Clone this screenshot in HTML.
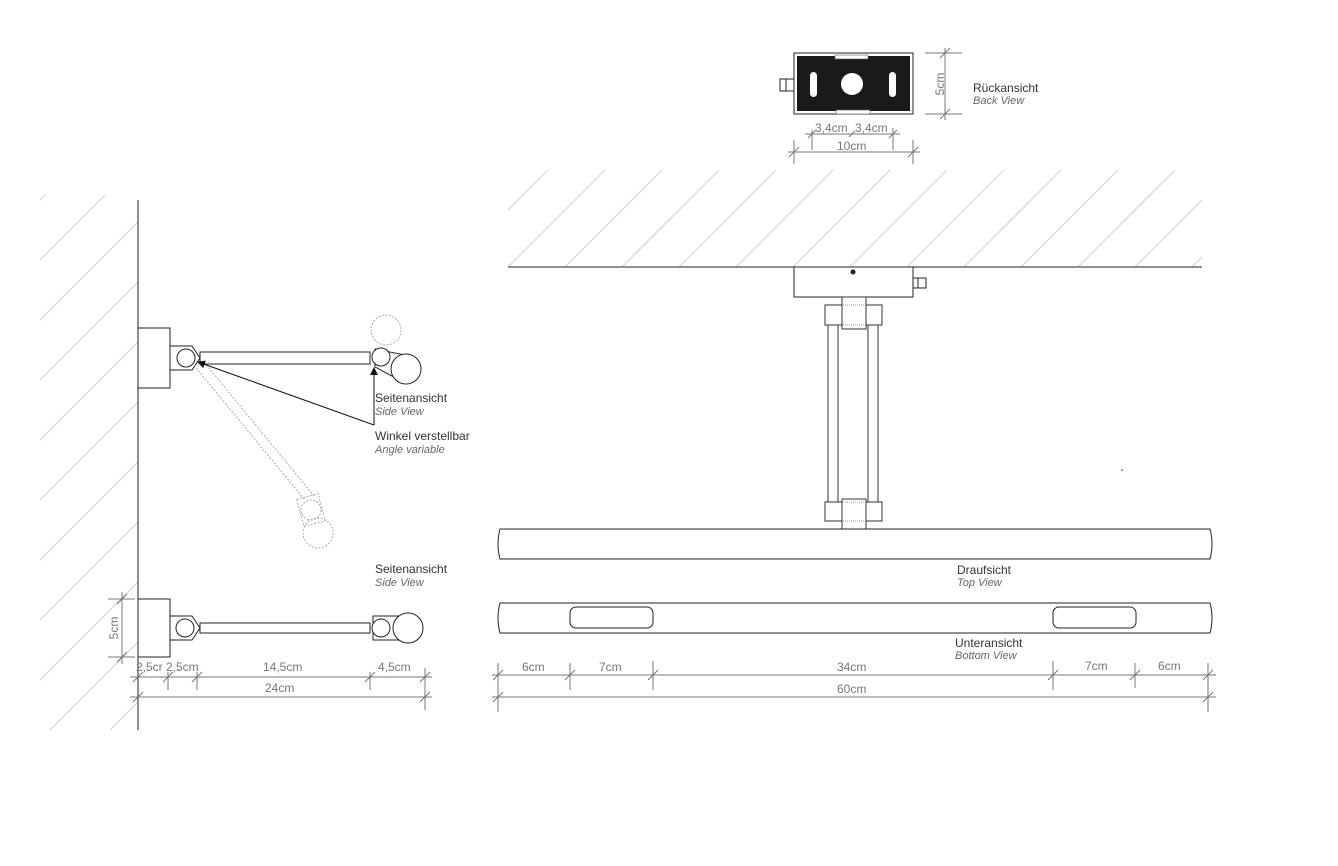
<!DOCTYPE html>
<html><head><meta charset="utf-8"><style>
html,body{margin:0;padding:0;background:#fff}
svg{display:block}
text{font-family:"Liberation Sans",sans-serif;font-size:12px;fill:#333}
.i{font-style:italic;font-size:11px;fill:#666}
.d{fill:#777;font-size:12px}
</style></head><body>
<svg width="1338" height="866" viewBox="0 0 1338 866" xmlns="http://www.w3.org/2000/svg">
<defs>
<clipPath id="c1"><rect x="508" y="170" width="694" height="97"/></clipPath>
<clipPath id="c2"><rect x="40" y="195" width="98" height="535"/></clipPath>
<marker id="ar" markerWidth="8" markerHeight="8" refX="7" refY="4" orient="auto"><path d="M0,0 L8,4 L0,8z" fill="#111"/></marker>
</defs>
<!-- ceiling hatching -->
<g clip-path="url(#c1)" stroke="#d0d0d0" stroke-width="1">
<path d="M451,267 L551,167 M508,267 L608,167 M565,267 L665,167 M622,267 L722,167 M679,267 L779,167 M736,267 L836,167 M793,267 L893,167 M850,267 L950,167 M907,267 L1007,167 M964,267 L1064,167 M1021,267 L1121,167 M1078,267 L1178,167 M1135,267 L1235,167 M1192,267 L1292,167"/>
</g>
<line x1="508" y1="267" x2="1202" y2="267" stroke="#222"/>
<!-- wall hatching -->
<g clip-path="url(#c2)" stroke="#d0d0d0" stroke-width="1">
<path d="M0,240 L140,100 M0,300 L140,160 M0,360 L140,220 M0,420 L140,280 M0,480 L140,340 M0,540 L140,400 M0,600 L140,460 M0,660 L140,520 M0,720 L140,580 M0,780 L140,640 M0,840 L140,700 M0,900 L140,760"/>
</g>
<line x1="138" y1="200" x2="138" y2="730" stroke="#222"/>

<!-- back view -->
<rect x="780" y="79" width="14" height="12" fill="#fff" stroke="#222"/>
<line x1="786" y1="79" x2="786" y2="91" stroke="#222"/>
<rect x="794" y="53" width="119" height="61" fill="#fff" stroke="#222"/>
<rect x="797" y="56" width="113" height="55" fill="#1a1a1a"/>
<rect x="835" y="55" width="33" height="4" fill="#fff" stroke="#555" stroke-width="0.6"/>
<rect x="836" y="110" width="34" height="4" fill="#fff" stroke="#555" stroke-width="0.6"/>
<circle cx="852" cy="84" r="11" fill="#fff"/>
<rect x="810" y="72" width="7" height="25" rx="3.5" fill="#fff"/>
<rect x="889" y="72" width="7" height="25" rx="3.5" fill="#fff"/>
<g stroke="#777" stroke-width="1" fill="none">
<line x1="925" y1="53" x2="962" y2="53"/><line x1="925" y1="114" x2="962" y2="114"/>
<line x1="945" y1="48" x2="945" y2="120"/>
<line x1="940" y1="58" x2="950" y2="48"/><line x1="940" y1="119" x2="950" y2="109"/>
<line x1="805" y1="134" x2="900" y2="134"/>
<line x1="812" y1="130" x2="812" y2="150"/><line x1="893" y1="128" x2="893" y2="150"/>
<line x1="808" y1="138" x2="816" y2="130"/><line x1="889" y1="138" x2="897" y2="130"/><line x1="849" y1="137" x2="855" y2="131"/>
<line x1="788" y1="152" x2="920" y2="152"/>
<line x1="794" y1="140" x2="794" y2="164"/><line x1="913" y1="140" x2="913" y2="164"/>
<line x1="789" y1="157" x2="799" y2="147"/><line x1="908" y1="157" x2="918" y2="147"/>
</g>
<text class="d" x="940" y="84" transform="rotate(-90 940 84)" text-anchor="middle" dy="4">5cm</text>
<text x="973" y="92">Rückansicht</text>
<text class="i" x="973" y="104">Back View</text>
<text class="d" x="815" y="132">3,4cm</text><text class="d" x="855" y="132">3,4cm</text>
<text class="d" x="837" y="150">10cm</text>

<!-- ceiling mount & stem -->
<rect x="794" y="267" width="119" height="30" fill="#fff" stroke="#222"/>
<circle cx="853" cy="272" r="2.5" fill="#222"/>
<rect x="913" y="278" width="13" height="10" fill="#fff" stroke="#222"/>
<line x1="918" y1="278" x2="918" y2="288" stroke="#222"/>
<g fill="#fff" stroke="#333">
<rect x="828" y="325" width="10" height="177"/>
<rect x="868" y="325" width="10" height="177"/>
<rect x="825" y="305" width="57" height="20"/>
<rect x="825" y="502" width="57" height="19"/>
<rect x="842" y="297" width="24" height="32"/>
<rect x="842" y="499" width="24" height="30"/>
</g>
<g stroke="#999" stroke-dasharray="1,1"><line x1="843" y1="305" x2="865" y2="305"/><line x1="843" y1="325" x2="865" y2="325"/><line x1="843" y1="502" x2="865" y2="502"/><line x1="843" y1="521" x2="865" y2="521"/></g>

<!-- bars -->
<g fill="#fff" stroke="#222">
<path d="M500,529 L1210,529 Q1214,544 1210,559 L500,559 Q496,544 500,529z"/>
<path d="M500,603 L1210,603 Q1214,618 1210,633 L500,633 Q496,618 500,603z"/>
<rect x="570" y="607" width="83" height="21" rx="6"/>
<rect x="1053" y="607" width="83" height="21" rx="6"/>
</g>
<text x="957" y="574">Draufsicht</text><text class="i" x="957" y="586">Top View</text>
<text x="955" y="647">Unteransicht</text><text class="i" x="955" y="659">Bottom View</text>
<g stroke="#777">
<line x1="492" y1="675" x2="1216" y2="675"/><line x1="492" y1="697" x2="1216" y2="697"/>
<line x1="498" y1="663" x2="498" y2="712"/><line x1="570" y1="663" x2="570" y2="690"/><line x1="653" y1="661" x2="653" y2="690"/>
<line x1="1053" y1="661" x2="1053" y2="690"/><line x1="1135" y1="663" x2="1135" y2="688"/><line x1="1208" y1="663" x2="1208" y2="712"/>
<path d="M493,680 L503,670 M493,702 L503,692 M565,680 L575,670 M648,680 L658,670 M1048,680 L1058,670 M1130,680 L1140,670 M1203,680 L1213,670 M1203,702 L1213,692"/>
</g>
<text class="d" x="522" y="671">6cm</text><text class="d" x="599" y="671">7cm</text>
<text class="d" x="837" y="671">34cm</text><text class="d" x="837" y="693">60cm</text>
<text class="d" x="1085" y="670">7cm</text><text class="d" x="1158" y="670">6cm</text>

<!-- side view 1 ghost -->
<g stroke="#aaa" stroke-dasharray="2,1.5" fill="none">
<circle cx="386" cy="330" r="15"/>
<line x1="196" y1="368" x2="305" y2="500"/><line x1="204" y1="362" x2="314" y2="496"/>
<circle cx="311" cy="510" r="10"/><circle cx="318" cy="533" r="15"/>
<rect x="300" y="496" width="22" height="28" transform="rotate(-15 311 510)"/>
</g>
<!-- side view 1 -->
<g fill="#fff" stroke="#222">
<rect x="138" y="328" width="32" height="60"/>
<path d="M170,346 L192,346 L200,358 L192,370 L170,370z"/>
<circle cx="186" cy="358" r="9"/>
<rect x="200" y="352" width="170" height="12"/>
<path d="M375,349 L405,355 L405,383 L375,367z"/>
<circle cx="406" cy="369" r="15"/>
<circle cx="381" cy="357" r="9"/>
</g>
<line x1="374" y1="425" x2="374" y2="368" stroke="#111" marker-end="url(#ar)"/>
<line x1="374" y1="425" x2="198" y2="362" stroke="#111" marker-end="url(#ar)"/>
<text x="375" y="402">Seitenansicht</text><text class="i" x="375" y="415">Side View</text>
<text x="375" y="440">Winkel verstellbar</text><text class="i" x="375" y="453">Angle variable</text>

<!-- side view 2 -->
<g fill="#fff" stroke="#222">
<rect x="138" y="599" width="32" height="58"/>
<path d="M170,616 L192,616 L200,628 L192,640 L170,640z"/>
<circle cx="185" cy="628" r="9"/>
<rect x="200" y="623" width="170" height="10"/>
<rect x="373" y="616" width="30" height="24"/>
<circle cx="408" cy="628" r="15"/>
<circle cx="381" cy="628" r="9"/>
</g>
<text x="375" y="573">Seitenansicht</text><text class="i" x="375" y="586">Side View</text>
<g stroke="#777">
<line x1="108" y1="599" x2="135" y2="599"/><line x1="108" y1="657" x2="135" y2="657"/>
<line x1="122" y1="592" x2="122" y2="664"/>
<path d="M117,604 L127,594 M117,662 L127,652"/>
<line x1="130" y1="677" x2="432" y2="677"/><line x1="130" y1="697" x2="432" y2="697"/>
<line x1="168" y1="672" x2="168" y2="690"/><line x1="197" y1="672" x2="197" y2="690"/><line x1="370" y1="672" x2="370" y2="690"/><line x1="425" y1="668" x2="425" y2="710"/>
<path d="M133,682 L143,672 M163,682 L173,672 M192,682 L202,672 M365,682 L375,672 M420,682 L430,672 M133,702 L143,692 M420,702 L430,692"/>
</g>
<text class="d" x="114" y="628" transform="rotate(-90 114 628)" text-anchor="middle" dy="4">5cm</text>
<text class="d" x="136" y="671">2,5cr</text><text class="d" x="166" y="671">2,5cm</text>
<text class="d" x="263" y="671">14,5cm</text><text class="d" x="378" y="671">4,5cm</text>
<text class="d" x="265" y="692">24cm</text>
<circle cx="1122" cy="470" r="0.8" fill="#333"/>
</svg>
</body></html>
